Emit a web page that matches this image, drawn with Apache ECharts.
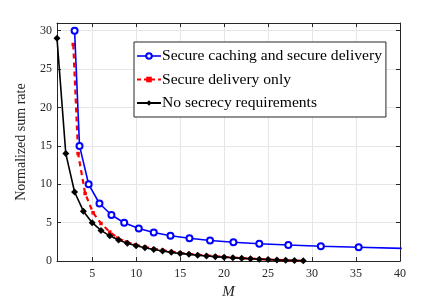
<!DOCTYPE html>
<html>
<head>
<meta charset="utf-8">
<script src="https://cdn.jsdelivr.net/npm/echarts@6/dist/echarts.min.js"></script>
<style>html,body{margin:0;padding:0;background:#fff}#c{width:443px;height:305px}</style>
</head>
<body>
<div id="c"></div>
<script>
// Data
var xTicks = [5, 10, 15, 20, 25, 30, 35, 40];
var yTicks = [0, 5, 10, 15, 20, 25, 30];

var blueM = [3, 3.56, 4.6, 5.83, 7.19, 8.64, 10.3, 12.0, 13.9, 16.06, 18.4, 21.06, 24.0, 27.3, 31.0, 35.3, 40.2];
var blueY = [30, 15, 10, 7.5, 6, 5, 4.25, 3.72, 3.3, 2.97, 2.68, 2.46, 2.25, 2.09, 1.93, 1.8, 1.66];

var redM = [2.85, 3.4, 4.2, 5.1, 6.0, 7.0, 7.9, 8.9, 9.9, 11.0, 12, 13, 14, 15, 16, 17, 18, 19, 20, 21, 22, 23, 24, 25, 26, 27, 28, 29];
var redY = [28.2, 14, 8.8, 6.3, 4.9, 3.78, 3.0, 2.5, 2.12, 1.85, 1.62, 1.42, 1.24, 1.09, 0.96, 0.84, 0.74, 0.64, 0.55, 0.47, 0.40, 0.33, 0.27, 0.21, 0.16, 0.11, 0.07, 0.03];

var blackM = [1, 2, 3, 4, 5, 6, 7, 8, 9, 10, 11, 12, 13, 14, 15, 16, 17, 18, 19, 20, 21, 22, 23, 24, 25, 26, 27, 28, 29];
var blackY = [29, 14, 9, 6.5, 5, 4, 3.29, 2.75, 2.33, 2, 1.73, 1.5, 1.31, 1.14, 1, 0.88, 0.76, 0.67, 0.58, 0.5, 0.43, 0.36, 0.3, 0.25, 0.2, 0.15, 0.11, 0.07, 0.03];

var names = ['Secure caching and secure delivery', 'Secure delivery only', 'No secrecy requirements'];

function pairs(a, b) { return a.map(function (v, i) { return [v, b[i]]; }); }

var font = 'Liberation Serif';
var axCol = '#262626';
var chart = echarts.init(document.getElementById('c'), null, {renderer: 'canvas'});
chart.setOption({
  animation: false,
  backgroundColor: '#fff',
  grid: {left: 57, right: 43, top: 23, bottom: 34, containLabel: false},
  legend: {
    orient: 'vertical', left: 134, top: 42,
    data: [
      {name: names[0], itemStyle: {borderWidth: 1.2}, lineStyle: {width: 1.6}},
      {name: names[1], lineStyle: {type: [4, 3], width: 2}},
      {name: names[2]}
    ],
    backgroundColor: '#fff', borderColor: axCol, borderWidth: 1, borderRadius: 0,
    padding: [6, 4, 6, 2], itemGap: 7.5, itemWidth: 24, itemHeight: 7,
    textStyle: {fontFamily: font, fontSize: 15.6, color: '#000', padding: [0, 0, 0, -4]}
  },
  xAxis: [{
    type: 'value', min: 1, max: 40,
    name: 'M', nameLocation: 'middle', nameGap: 21,
    nameTextStyle: {fontFamily: font, fontStyle: 'italic', fontSize: 15, color: axCol},
    axisLine: {onZero: false, lineStyle: {color: axCol, width: 1}},
    axisTick: {inside: true, length: 4, customValues: xTicks, lineStyle: {color: axCol}},
    axisLabel: {customValues: xTicks, fontFamily: font, fontSize: 12, color: axCol, margin: 7},
    splitLine: {show: true, lineStyle: {color: '#e6e6e6', width: 1}}
  }, {
    type: 'value', min: 1, max: 40, position: 'top',
    axisLine: {onZero: false, lineStyle: {color: axCol, width: 1}},
    axisTick: {inside: true, length: 4, customValues: xTicks, lineStyle: {color: axCol}},
    axisLabel: {show: false},
    splitLine: {show: false}
  }],
  yAxis: [{
    type: 'value', min: 0, max: 31,
    name: 'Normalized sum rate', nameLocation: 'middle', nameGap: 29,
    nameTextStyle: {fontFamily: font, fontSize: 14, color: axCol},
    axisLine: {show: true, lineStyle: {color: axCol, width: 1}},
    axisTick: {show: true, inside: true, length: 4, customValues: yTicks, lineStyle: {color: axCol}},
    axisLabel: {customValues: yTicks, fontFamily: font, fontSize: 12, color: axCol, margin: 5},
    splitLine: {show: true, lineStyle: {color: '#e6e6e6', width: 1}}
  }, {
    type: 'value', min: 0, max: 31, position: 'right',
    axisLine: {show: true, lineStyle: {color: axCol, width: 1}},
    axisTick: {show: true, inside: true, length: 4, customValues: yTicks, lineStyle: {color: axCol}},
    axisLabel: {show: false},
    splitLine: {show: false}
  }],
  series: [{
    name: names[0], type: 'line', data: pairs(blueM, blueY), clip: true,
    symbol: 'emptyCircle', symbolSize: 6,
    lineStyle: {color: '#0000ff', width: 1.6},
    itemStyle: {color: '#0000ff', borderColor: '#0000ff', borderWidth: 1.4},
    z: 3
  }, {
    name: names[1], type: 'line', data: pairs(redM, redY), clip: true,
    symbol: 'rect', symbolSize: 3.5,
    lineStyle: {color: '#ff0000', width: 2.2, type: [5, 4]},
    itemStyle: {color: '#ff0000'},
    z: 2
  }, {
    name: names[2], type: 'line', data: pairs(blackM, blackY), clip: true,
    symbol: 'diamond', symbolSize: 7,
    lineStyle: {color: '#000000', width: 1.6},
    itemStyle: {color: '#000000'},
    z: 4
  }]
});
</script>
</body>
</html>
